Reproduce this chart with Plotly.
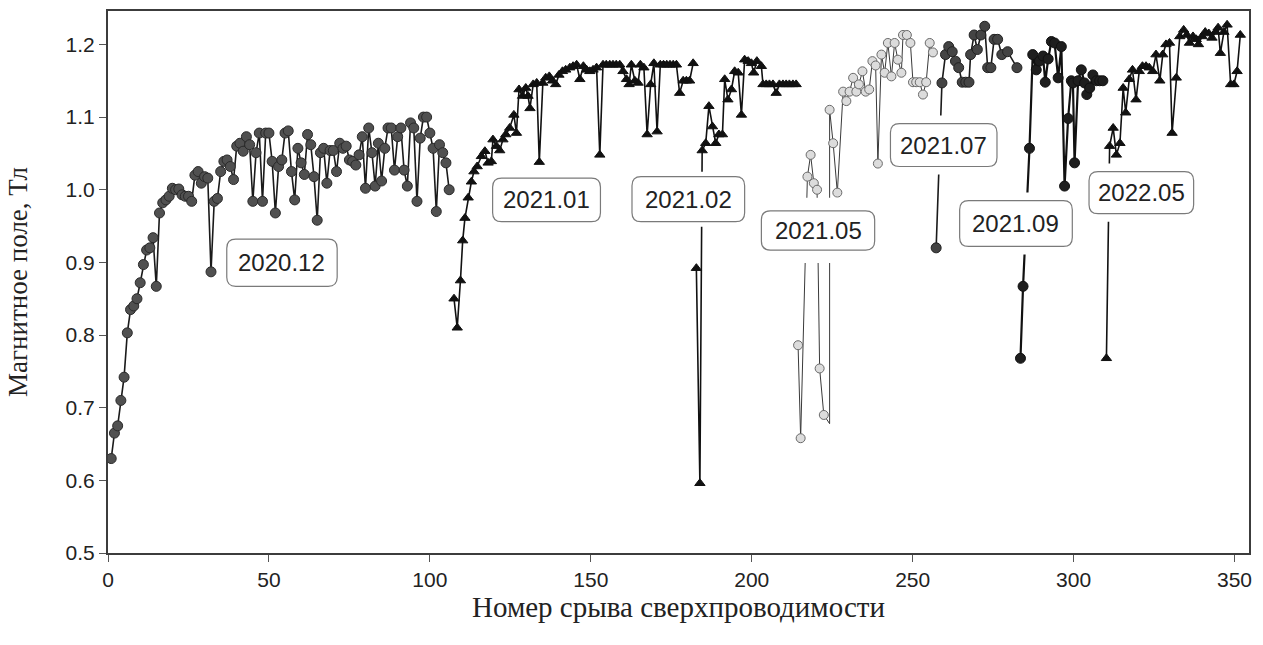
import plotly.graph_objects as go

# ---------------- data ----------------
x_2020_12 = list(range(1, 107))
y_2020_12 = [0.63, 0.665, 0.675, 0.71, 0.742, 0.803, 0.835, 0.84, 0.85, 0.872,
             0.897, 0.917, 0.92, 0.934, 0.867, 0.968, 0.982, 0.986, 0.991, 1.002,
             1.0, 1.001, 0.993, 0.991, 0.991, 0.984, 1.02, 1.025, 1.009, 1.018,
             1.016, 0.887, 0.984, 0.988, 1.025, 1.039, 1.041, 1.032, 1.014, 1.06,
             1.064, 1.053, 1.073, 1.062, 0.984, 1.051, 1.078, 0.984, 1.078, 1.078,
             1.039, 0.968, 1.032, 1.041, 1.078, 1.081, 1.025, 0.986, 1.057, 1.037,
             1.021, 1.076, 1.062, 1.018, 0.958, 1.051, 1.057, 1.009, 1.054, 1.054,
             1.025, 1.064, 1.057, 1.06, 1.041, 1.039, 1.034, 1.048, 1.073, 1.002,
             1.085, 1.051, 1.005, 1.064, 1.012, 1.057, 1.085, 1.085, 1.027, 1.073,
             1.085, 1.027, 1.005, 1.092, 1.085, 0.984, 1.071, 1.1, 1.1, 1.078,
             1.057, 0.97, 1.062, 1.051, 1.037, 1.0]

x_2021_01 = [107.5, 108.5, 109.5, 110.2, 110.9, 111.9, 112.9, 113.7, 114.7, 116.0,
             117.1, 118.1, 119.1, 119.6, 120.7, 121.7, 122.7, 123.6, 124.8, 126.1,
             126.9, 127.7, 128.8, 129.8, 130.5, 131.1, 132.1, 133.2, 134.0, 135.1,
             136.0, 137.1, 138.1, 139.1, 140.1, 141.2, 142.2, 143.5, 144.5, 145.6,
             146.6, 147.7, 148.7, 149.7, 150.7, 151.8, 152.8, 153.8, 154.8, 155.9,
             156.9, 157.9, 159.0, 160.0, 161.1, 161.9, 162.6, 163.7, 164.7, 165.4,
             166.5, 167.5, 168.6, 169.6, 170.6, 171.6, 172.6, 173.6, 174.6, 175.6,
             176.6, 177.6, 178.7, 179.7, 180.7, 181.8]
y_2021_01 = [0.85, 0.81, 0.875, 0.93, 0.961, 0.989, 1.011, 1.025, 1.032, 1.046,
             1.053, 1.037, 1.039, 1.069, 1.06, 1.054, 1.069, 1.076, 1.085, 1.103,
             1.078, 1.138, 1.129, 1.14, 1.129, 1.112, 1.145, 1.147, 1.038, 1.147,
             1.154, 1.156, 1.15, 1.145, 1.158, 1.163, 1.165, 1.168, 1.17, 1.172,
             1.152, 1.17, 1.165, 1.163, 1.165, 1.168, 1.048, 1.172, 1.172, 1.172,
             1.172, 1.172, 1.172, 1.163, 1.152, 1.145, 1.172, 1.15, 1.147, 1.172,
             1.168, 1.076, 1.145, 1.174, 1.08, 1.172, 1.172, 1.172, 1.172, 1.172,
             1.172, 1.133, 1.15, 1.15, 1.15, 1.174]

x_2021_02 = [182.8, 183.9, 184.6, 185.7, 186.7, 187.8, 188.8, 189.8, 190.9, 191.6,
             192.6, 193.7, 194.7, 195.8, 196.8, 197.8, 198.9, 199.9, 200.6, 201.6,
             203.0, 203.5, 204.5, 205.5, 206.6, 207.6, 208.6, 209.7, 210.7, 211.7,
             212.8, 213.8]
y_2021_02 = [0.892, 0.596, 1.054, 1.064, 1.115, 1.087, 1.064, 1.076, 1.076, 1.152,
             1.124, 1.138, 1.163, 1.161, 1.103, 1.179, 1.177, 1.174, 1.161, 1.177,
             1.17, 1.145, 1.145, 1.145, 1.145, 1.133, 1.145, 1.145, 1.145, 1.145,
             1.145, 1.145]

x_2021_05 = [214.4, 215.2, 217.3, 218.3, 219.3, 220.3, 221.1, 222.4, 224.2, 224.2,
             225.3, 226.6, 228.4, 229.4, 230.4, 231.5, 232.5, 233.3, 234.4, 235.4,
             236.5, 237.5, 238.5, 239.2, 240.3, 241.3, 242.3, 243.4, 244.4, 245.4,
             246.5, 247.0, 248.2, 249.3, 250.1, 251.1, 252.2, 253.2, 254.2, 255.3,
             256.3]
y_2021_05 = [0.786, 0.658, 1.018, 1.048, 1.009, 1.0, 0.754, 0.69, 0.678, 1.11,
             1.064, 0.996, 1.135, 1.122, 1.135, 1.154, 1.135, 1.145, 1.163, 1.135,
             1.138, 1.177, 1.171, 1.036, 1.186, 1.161, 1.202, 1.156, 1.202, 1.179,
             1.161, 1.213, 1.213, 1.202, 1.148, 1.148, 1.148, 1.131, 1.148, 1.202,
             1.189]
hidden_2021_05 = [8]          # index of a line vertex drawn without a marker

x_2021_07 = [257.3, 259.1, 260.2, 261.2, 262.3, 263.3, 264.3, 265.4, 266.5, 267.5,
             268.0, 269.1, 270.1, 271.2, 272.4, 273.3, 274.3, 275.3, 276.4, 277.7,
             279.5, 282.4]
y_2021_07 = [0.92, 1.147, 1.186, 1.197, 1.19, 1.177, 1.168, 1.148, 1.148, 1.148,
             1.186, 1.213, 1.193, 1.213, 1.225, 1.168, 1.168, 1.207, 1.207, 1.186,
             1.19, 1.168]

x_2021_09 = [283.5, 284.3, 286.3, 287.3, 288.4, 289.4, 290.5, 291.2, 292.1, 293.1,
             294.1, 295.2, 296.2, 297.2, 298.3, 299.3, 299.8, 300.3, 301.4, 302.4,
             303.4, 304.1, 305.0, 306.0, 307.1, 308.1, 309.1]
y_2021_09 = [0.768, 0.867, 1.057, 1.186, 1.165, 1.177, 1.184, 1.148, 1.18, 1.204,
             1.202, 1.154, 1.197, 1.005, 1.098, 1.15, 1.147, 1.037, 1.15, 1.165,
             1.147, 1.131, 1.14, 1.158, 1.15, 1.15, 1.15]

x_2022_05 = [310.2, 311.2, 312.3, 313.3, 314.4, 315.4, 316.2, 317.3, 318.3, 319.4,
             320.4, 321.4, 322.5, 323.5, 324.6, 325.6, 326.8, 327.7, 328.7, 329.8,
             330.6, 331.9, 333.0, 334.2, 335.2, 336.0, 337.1, 338.1, 338.8, 339.9,
             340.9, 342.0, 343.0, 344.1, 344.9, 345.6, 346.7, 347.7, 348.8, 349.8,
             350.8, 351.8]
y_2022_05 = [0.768, 1.06, 1.085, 1.048, 1.064, 1.14, 1.106, 1.152, 1.165, 1.124,
             1.163, 1.17, 1.17, 1.168, 1.163, 1.186, 1.15, 1.186, 1.2, 1.202,
             1.078, 1.154, 1.211, 1.22, 1.213, 1.202, 1.211, 1.207, 1.2, 1.211,
             1.217, 1.215, 1.209, 1.217, 1.223, 1.188, 1.217, 1.227, 1.145, 1.145,
             1.163, 1.213]

# labels: text, box x0, x1, y0 (bottom), y1 (top)
label_text = ["2020.12", "2021.01", "2021.02", "2021.05", "2021.07", "2021.09", "2022.05"]
label_x0 = [36.9, 119.5, 162.8, 203.0, 243.1, 264.6, 304.8]
label_x1 = [71.2, 153.0, 197.8, 238.2, 276.2, 299.6, 337.3]
label_y0 = [0.867, 0.956, 0.956, 0.917, 1.032, 0.922, 0.967]
label_y1 = [0.932, 1.016, 1.018, 0.971, 1.091, 0.985, 1.025]

x_ticks = [0, 50, 100, 150, 200, 250, 300, 350]
y_ticks = [0.5, 0.6, 0.7, 0.8, 0.9, 1.0, 1.1, 1.2]

# ---------------- figure ----------------
PX_X = 3.22     # px per x unit (approx.)
PX_Y = 726.0    # px per y unit (approx.)
halo_px = [6, 6, 5, 13, 8, 8, 8]   # white gap around label boxes

fig = go.Figure()

def add(x, y, symbol, fill, outline, size, lcolor, lwidth, owidth=1, hidden=()):
    sizes = [0 if i in hidden else size for i in range(len(x))]
    fig.add_trace(go.Scatter(
        x=x, y=y, mode="lines+markers",
        line=dict(color=lcolor, width=lwidth),
        marker=dict(symbol=symbol, size=sizes, color=fill, opacity=1,
                    line=dict(color=outline, width=owidth)),
        showlegend=False, hoverinfo="x+y"))

add(x_2020_12, y_2020_12, "circle", "#505050", "#2a2a2a", 10, "#1a1a1a", 1.6)
add(x_2021_01, y_2021_01, "triangle-up", "#111111", "#111111", 9, "#111111", 1.6)
add(x_2021_02, y_2021_02, "triangle-up", "#111111", "#111111", 9, "#111111", 1.6)
add(x_2021_05, y_2021_05, "circle", "#dcdcdc", "#6a6a6a", 9, "#3a3a3a", 1.0,
    hidden=hidden_2021_05)
add(x_2021_07, y_2021_07, "circle", "#444444", "#222222", 10, "#1a1a1a", 1.6)
add(x_2021_09, y_2021_09, "circle", "#1e1e1e", "#111111", 10, "#111111", 2.2)
add(x_2022_05, y_2022_05, "triangle-up", "#111111", "#111111", 9, "#111111", 1.6)

# rounded label boxes with a white halo that interrupts the lines
rx = 9 / PX_X
ry = 9 / PX_Y
for t, x0, x1, y0, y1, h in zip(label_text, label_x0, label_x1, label_y0, label_y1, halo_px):
    fig.add_shape(type="rect", xref="x", yref="y",
                  x0=x0 - 2 / PX_X, x1=x1 + 2 / PX_X,
                  y0=y0 - h / PX_Y, y1=y1 + h / PX_Y,
                  fillcolor="white", line=dict(width=0), layer="above")
    path = (f"M {x0+rx},{y0} L {x1-rx},{y0} Q {x1},{y0} {x1},{y0+ry} "
            f"L {x1},{y1-ry} Q {x1},{y1} {x1-rx},{y1} L {x0+rx},{y1} "
            f"Q {x0},{y1} {x0},{y1-ry} L {x0},{y0+ry} Q {x0},{y0} {x0+rx},{y0} Z")
    fig.add_shape(type="path", path=path, xref="x", yref="y",
                  fillcolor="white", line=dict(color="#7a7a7a", width=1.2),
                  layer="above")
    fig.add_annotation(x=(x0 + x1) / 2, y=(y0 + y1) / 2, text=t, showarrow=False,
                       xref="x", yref="y",
                       font=dict(family="Liberation Sans, Arial", size=24, color="#222222"))

fig.update_layout(
    width=1263, height=645,
    margin=dict(l=108, r=14, t=9, b=92),
    paper_bgcolor="white", plot_bgcolor="white",
    showlegend=False,
)
fig.update_xaxes(
    range=[0, 354.5], tickvals=x_ticks, ticktext=[str(v) for v in x_ticks],
    showgrid=False, zeroline=False,
    showline=True, linecolor="#3c3c3c", linewidth=2, mirror=True,
    ticks="outside", ticklen=7, tickwidth=1, tickcolor="#555555",
    tickfont=dict(family="Liberation Sans, Arial", size=21, color="#222222"),
    title=dict(text="Номер срыва сверхпроводимости", standoff=4,
               font=dict(family="Liberation Serif, Times New Roman", size=29, color="#222222")),
)
fig.update_yaxes(
    range=[0.5, 1.246], tickvals=y_ticks, ticktext=[f"{v:.1f}" for v in y_ticks],
    showgrid=False, zeroline=False,
    showline=True, linecolor="#3c3c3c", linewidth=2, mirror=True,
    ticks="outside", ticklen=7, tickwidth=1, tickcolor="#555555",
    tickfont=dict(family="Liberation Sans, Arial", size=21, color="#222222"),
    title=dict(text="Магнитное поле, Тл", standoff=30,
               font=dict(family="Liberation Serif, Times New Roman", size=27, color="#222222")),
)

fig.write_html("out.html",
               config={"displayModeBar": False},
               post_script="document.body.style.margin='0';document.body.style.padding='0';"
                           "document.body.style.overflow='hidden';")
